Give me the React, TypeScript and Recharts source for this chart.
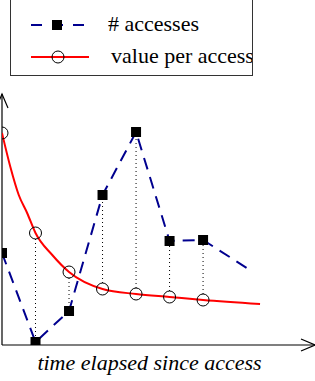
import { ComposedChart, Line, XAxis, YAxis, ReferenceLine, Legend } from 'recharts'

// time slots where an access happened, and the two measured series
const slots = [0, 1, 2, 3, 4, 5, 6]
const accesses = [92, 3, 34, 150, 213, 104, 105]
const valuePerAccess = [212, 112, 73, 56, 51, 48, 45]
// extra points
const curveReadT = [0.25, 0.5, 0.75, 1.5]
const curveReadV = [178, 150, 132, 90]
// where each line trails off after the last marker
const accessesTail = [7.4, 75]
const valueTail = [7.7, 41]
const seriesNames = ['# accesses', 'value per access']
const xLabel = 'time elapsed since access'
const xMax = 9.34
const yMax = 251

const accessData = [
  ...slots.map((t, i) => ({ t, v: accesses[i], marked: true })),
  { t: accessesTail[0], v: accessesTail[1], marked: false },
]
const valueData = [
  ...slots.map((t, i) => ({ t, v: valuePerAccess[i], marked: true })),
  ...curveReadT.map((t, i) => ({ t, v: curveReadV[i], marked: false })),
  { t: valueTail[0], v: valueTail[1], marked: false },
].sort((a, b) => a.t - b.t)

const FONT = '"Liberation Serif", "DejaVu Serif", "Times New Roman", Times, serif'
const BLUE = '#00008f'
const RED = '#ff0000'

function Square(p: any) {
  const { cx, cy, payload, index } = p
  if (!payload?.marked) return <g key={`s${index}`} />
  return <rect key={`s${index}`} x={cx - 5} y={cy - 5} width={10} height={10} fill="#000" />
}

function Ring(p: any) {
  const { cx, cy, payload, index } = p
  if (!payload?.marked) return <g key={`r${index}`} />
  return <circle key={`r${index}`} cx={cx} cy={cy} r={6} fill="none" stroke="#000" strokeWidth={1} />
}

// axis line with an open arrow head at its far end
function Arrow(p: any) {
  const { x1, y1, x2, y2 } = p
  const dx = x2 - x1
  const dy = y2 - y1
  const len = Math.hypot(dx, dy) || 1
  const ux = dx / len
  const uy = dy / len
  const hl = 14
  const hw = 6
  const bx = x2 - ux * hl
  const by = y2 - uy * hl
  const nx = -uy
  const ny = ux
  return (
    <g>
      <line x1={x1} y1={y1} x2={x2} y2={y2} stroke="#000" strokeWidth={1.2} />
      <polyline
        points={`${bx + nx * hw},${by + ny * hw} ${x2},${y2} ${bx - nx * hw},${by - ny * hw}`}
        fill="none"
        stroke="#000"
        strokeWidth={1.2}
      />
    </g>
  )
}

// dotted drop line from the ring edge to the square edge
function Drop(p: any) {
  const { x1, y1, x2, y2 } = p
  const dir = y2 > y1 ? 1 : -1
  return (
    <line
      x1={x1}
      y1={y1 + dir * 6}
      x2={x2}
      y2={y2 - dir * 5}
      stroke="#000"
      strokeWidth={1}
      strokeDasharray="1 3"
    />
  )
}

function renderLegend(props: any) {
  const payload = props.payload ?? []
  return (
    <div
      style={{
        width: 243,
        height: 86,
        border: '1px solid #333',
        boxSizing: 'border-box',
        overflow: 'hidden',
        background: '#fff',
      }}
    >
      <svg width={243} height={86} style={{ display: 'block' }}>
        {payload.map((entry: any, i: number) => {
          const cy = 34 + i * 32
          return (
            <g key={entry.value}>
              <line
                x1={20}
                y1={cy}
                x2={78}
                y2={cy}
                stroke={entry.color}
                strokeWidth={2}
                strokeDasharray={i === 0 ? '11 10' : undefined}
              />
              {i === 0 ? (
                <rect x={41} y={cy - 5} width={10} height={10} fill="#000" />
              ) : (
                <circle cx={47} cy={cy} r={6} fill="none" stroke="#000" strokeWidth={1} />
              )}
              <text x={i === 0 ? 97 : 100} y={cy + 6} style={{ fontFamily: FONT, fontSize: 22 }} fill="#000">
                {entry.value}
              </text>
            </g>
          )
        })}
      </svg>
    </div>
  )
}

export default function App() {
  return (
    <div style={{ position: 'absolute', left: 0, top: 0, width: 315, height: 381, background: '#fff' }}>
      <ComposedChart width={315} height={381} margin={{ top: 94, right: 0, bottom: 0, left: 2 }}>
        <XAxis
          dataKey="t"
          type="number"
          domain={[0, xMax]}
          allowDataOverflow
          height={36}
          axisLine={false}
          tickLine={false}
          tick={false}
          label={{
            value: xLabel,
            position: 'insideBottom',
            offset: 11,
            dx: -9,
            style: { fontFamily: FONT, fontSize: 22, fontStyle: 'italic', fill: '#000' },
          }}
        />
        <YAxis type="number" domain={[0, yMax]} hide allowDataOverflow />
        {slots.slice(1).map((t, k) => (
          <ReferenceLine
            key={`d${t}`}
            segment={[
              { x: t, y: valuePerAccess[k + 1] },
              { x: t, y: accesses[k + 1] },
            ]}
            shape={Drop}
            ifOverflow="visible"
          />
        ))}
        <ReferenceLine segment={[{ x: 0, y: 0 }, { x: xMax, y: 0 }]} shape={Arrow} ifOverflow="visible" />
        <ReferenceLine segment={[{ x: 0, y: 0 }, { x: 0, y: yMax }]} shape={Arrow} ifOverflow="visible" />
        <Line
          data={valueData}
          dataKey="v"
          name={seriesNames[1]}
          type="monotone"
          stroke={RED}
          strokeWidth={2}
          dot={Ring}
          activeDot={false}
          isAnimationActive={false}
        />
        <Line
          data={accessData}
          dataKey="v"
          name={seriesNames[0]}
          type="linear"
          stroke={BLUE}
          strokeWidth={2}
          strokeDasharray="12 8"
          dot={Square}
          activeDot={false}
          isAnimationActive={false}
        />
        <Legend
          layout="vertical"
          align="center"
          verticalAlign="middle"
          content={renderLegend}
          wrapperStyle={{ left: 10, top: -10, width: 243, height: 86 }}
        />
      </ComposedChart>
    </div>
  )
}
